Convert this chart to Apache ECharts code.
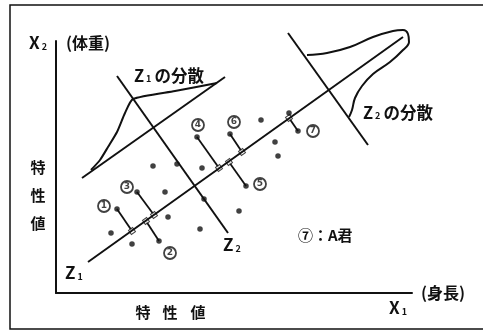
<!DOCTYPE html>
<html>
<head>
<meta charset="utf-8">
<script src="https://cdn.jsdelivr.net/npm/echarts@6/dist/echarts.min.js"></script>
<style>
  html, body { margin: 0; padding: 0; background: #fff; }
  #chart { width: 483px; height: 331px; }
</style>
</head>
<body>
<div id="chart"></div>
<script>
const z1Axis = [[88, 262], [403, 37]]
const z2AxisLeft = [[117, 76], [228, 233]]
const z2AxisRight = [[288, 33], [368, 145]]
const z1Base = [[82, 178], [225, 77]]
const z1Curve = [[91, 170], [100, 160], [108, 147], [117, 132], [125, 113], [133, 99], [175, 91], [217, 83]]
const z2Curve = [[307, 55], [327, 53], [350, 47], [373, 37], [393, 31], [403, 30], [408, 34], [409, 42], [403, 50], [390, 62], [373, 74], [362, 86], [355, 98], [352, 110], [349, 117]]

const pointNames = ['1', '2', '3', '4', '5', '6', '7']
const pointXY = [[117, 209], [159, 241], [137, 192], [197, 137], [246, 186], [230, 134], [298, 131]]
const footXY = [[132, 231], [146, 221], [154, 215], [219, 168], [229, 162], [242, 152], [289, 118]]
const nameXY = [[104, 206], [170, 253], [127, 187], [198, 125], [260, 184], [234, 122], [313, 131]]

const plainDots = [[153, 166], [165, 192], [168, 217], [200, 229], [111, 233], [132, 244], [202, 168], [261, 120], [275, 142], [278, 156], [239, 211], [289, 113]]
const z2Dots = [[177, 164], [204, 199]]

const ink = '#111'
const font = '"Noto Sans CJK JP", "Noto Sans", sans-serif'

const chart = echarts.init(document.getElementById('chart'))

const lineSeries = (data, smooth) => ({
  type: 'line',
  data: data,
  symbol: 'none',
  smooth: smooth || false,
  clip: false,
  lineStyle: { color: ink, width: 2 },
  silent: true
})

const text = (x, y, str, size, extra) => ({
  type: 'text',
  x: x,
  y: y,
  style: Object.assign({
    text: str,
    font: 'bold ' + size + 'px ' + font,
    fill: ink,
    verticalAlign: 'middle'
  }, extra || {})
})

const subText = (x, y, main, sub) => ({
  type: 'text',
  x: x,
  y: y,
  style: {
    text: '{m|' + main + '}{s|' + sub + '}',
    fill: ink,
    verticalAlign: 'middle',
    rich: {
      m: { fontSize: 17, fontFamily: font, fontWeight: 'bold', color: ink },
      s: { fontSize: 9, fontFamily: font, fontWeight: 'bold', color: ink, padding: [8, 0, 0, 2] }
    }
  }
})

const subLabel = (x, y, main, sub, tail) => ({
  type: 'text',
  x: x,
  y: y,
  style: {
    text: '{m|' + main + '}{s|' + sub + '}{m|' + tail + '}',
    fill: ink,
    verticalAlign: 'middle',
    rich: {
      m: { fontSize: 16.5, fontFamily: font, fontWeight: 'bold', color: ink },
      s: { fontSize: 9, fontFamily: font, fontWeight: 'bold', color: ink, padding: [6, 3, 0, 2] }
    }
  }
})

const option = {
  animation: false,
  grid: { left: 56, top: 41, right: 71, bottom: 38 },
  xAxis: {
    type: 'value',
    min: 56,
    max: 412,
    axisLine: { show: true, onZero: false, lineStyle: { color: ink, width: 2 } },
    axisTick: { show: false },
    axisLabel: { show: false },
    splitLine: { show: false }
  },
  yAxis: {
    type: 'value',
    min: 41,
    max: 293,
    inverse: true,
    axisLine: { show: true, onZero: false, lineStyle: { color: ink, width: 2 } },
    axisTick: { show: false },
    axisLabel: { show: false },
    splitLine: { show: false }
  },
  series: [
    lineSeries(z1Axis),
    lineSeries(z2AxisLeft),
    lineSeries(z2AxisRight),
    lineSeries(z1Base),
    lineSeries(z1Curve, 0.2),
    lineSeries(z2Curve, 0.4),
    {
      type: 'lines',
      coordinateSystem: 'cartesian2d',
      data: pointXY.map((p, i) => ({ coords: [p, footXY[i]] })),
      lineStyle: { color: ink, width: 1.8, opacity: 1 },
      silent: true
    },
    {
      type: 'scatter',
      data: footXY,
      symbol: 'rect',
      symbolSize: 5,
      symbolRotate: 35,
      itemStyle: { color: '#fff', borderColor: ink, borderWidth: 1 },
      silent: true
    },
    {
      type: 'scatter',
      data: pointXY.concat(plainDots, z2Dots),
      symbolSize: 5.5,
      itemStyle: { color: ink },
      silent: true
    },
    {
      // circled point numbers
      type: 'scatter',
      data: nameXY.map((p, i) => ({ value: p, name: pointNames[i] })),
      symbol: 'circle',
      symbolSize: 12,
      itemStyle: { color: '#fff', borderColor: ink, borderWidth: 1.8 },
      label: {
        show: true,
        position: 'inside',
        formatter: '{b}',
        fontFamily: 'DejaVu Sans',
        fontWeight: 'bold',
        fontSize: 9,
        color: ink
      },
      silent: true
    }
  ],
  graphic: [
    // frame of the figure (right edge is cut off in the scan)
    { type: 'polyline', shape: { points: [[483, 5], [10, 5], [10, 329], [483, 329]] }, style: { stroke: ink, lineWidth: 1.5, fill: null } },
    subText(29, 43, 'X', '2'),
    text(66, 43, '(体重)', 16),
    subLabel(134, 76, 'Z', '1', 'の分散'),
    subLabel(363, 113, 'Z', '2', 'の分散'),
    text(38, 167, '特', 15, { align: 'center' }),
    text(38, 195, '性', 15, { align: 'center' }),
    text(38, 223, '値', 15, { align: 'center' }),
    text(143, 312, '特', 15, { align: 'center' }),
    text(170, 312, '性', 15, { align: 'center' }),
    text(198, 312, '値', 15, { align: 'center' }),
    subText(389, 308, 'X', '1'),
    text(421, 293, '(身長)', 16),
    subText(65, 273, 'Z', '1'),
    subText(223, 245, 'Z', '2'),
    text(298, 235, '⑦：A君', 15)
  ]
}

chart.setOption(option)
</script>
</body>
</html>
